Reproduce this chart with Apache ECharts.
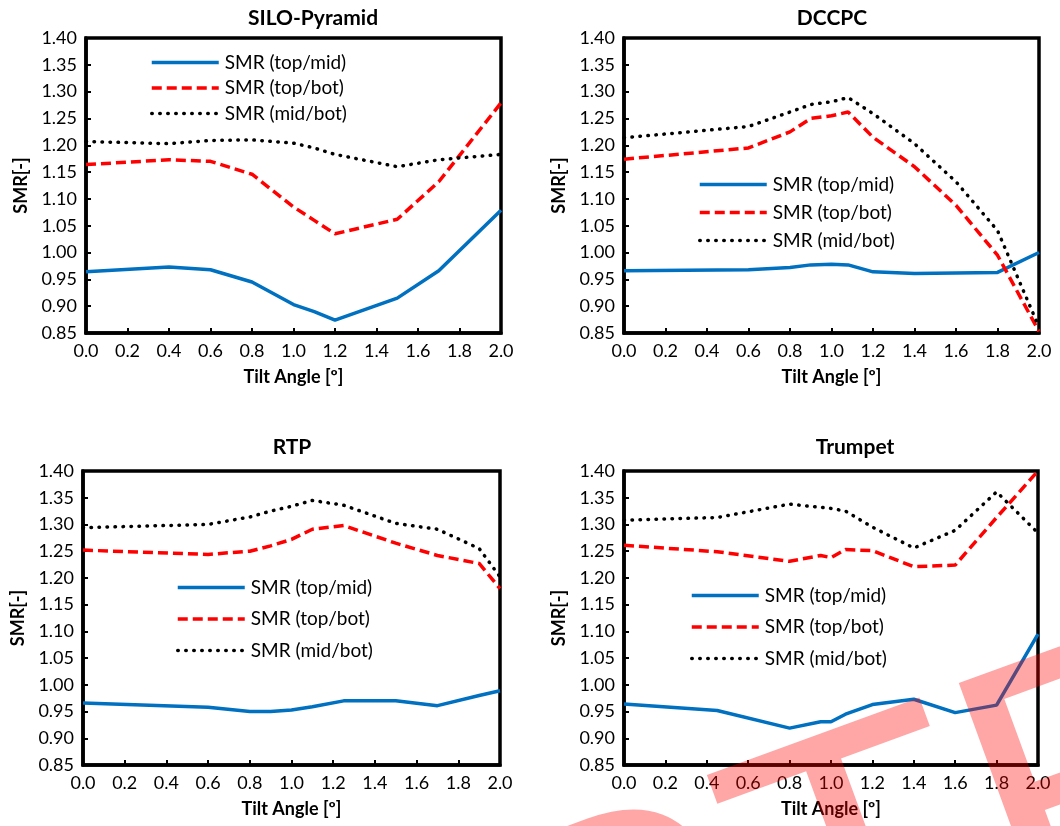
<!DOCTYPE html>
<html>
<head>
<meta charset="utf-8">
<script src="https://cdn.jsdelivr.net/npm/echarts@6/dist/echarts.min.js"></script>
<style>
  html, body { margin: 0; padding: 0; background: #fff; }
  #chart { width: 1060px; height: 826px; }
</style>
</head>
<body>
<div id="chart"></div>
<script>
// SILO-Pyramid
const siloX = [0, 0.4, 0.6, 0.8, 1.0, 1.1, 1.2, 1.5, 1.7, 2.0]
const siloTopMid = [0.964, 0.973, 0.968, 0.945, 0.903, 0.890, 0.874, 0.915, 0.966, 1.079]
const siloTopBot = [1.164, 1.173, 1.170, 1.146, 1.085, 1.060, 1.035, 1.062, 1.132, 1.279]
const siloMidBot = [1.207, 1.203, 1.209, 1.210, 1.204, 1.195, 1.183, 1.160, 1.173, 1.183]

// DCCPC
const dccpcX = [0, 0.6, 0.8, 0.9, 1.0, 1.08, 1.2, 1.4, 1.6, 1.8, 2.0]
const dccpcTopMid = [0.966, 0.968, 0.972, 0.977, 0.978, 0.977, 0.964, 0.961, 0.962, 0.963, 1.000]
const dccpcTopBot = [1.174, 1.195, 1.225, 1.250, 1.255, 1.262, 1.215, 1.160, 1.088, 0.995, 0.853]
const dccpcMidBot = [1.214, 1.235, 1.262, 1.276, 1.281, 1.289, 1.259, 1.203, 1.132, 1.041, 0.861]

// RTP
const rtpX = [0, 0.6, 0.8, 0.9, 1.0, 1.1, 1.25, 1.5, 1.7, 1.9, 2.0]
const rtpTopMid = [0.966, 0.958, 0.950, 0.950, 0.953, 0.959, 0.970, 0.970, 0.961, 0.980, 0.989]
const rtpTopBot = [1.252, 1.244, 1.250, 1.260, 1.272, 1.291, 1.298, 1.265, 1.242, 1.227, 1.180]
const rtpMidBot = [1.294, 1.300, 1.314, 1.325, 1.334, 1.345, 1.336, 1.302, 1.291, 1.255, 1.202]

// Trumpet
const trumpetX = [0, 0.45, 0.8, 0.95, 1.0, 1.07, 1.2, 1.4, 1.6, 1.8, 2.0]
const trumpetTopMid = [0.964, 0.952, 0.919, 0.931, 0.931, 0.945, 0.963, 0.973, 0.948, 0.962, 1.095]
const trumpetTopBot = [1.261, 1.249, 1.231, 1.242, 1.238, 1.253, 1.251, 1.221, 1.224, 1.313, 1.400]
const trumpetMidBot = [1.308, 1.313, 1.338, 1.332, 1.330, 1.325, 1.295, 1.256, 1.289, 1.361, 1.284]

const seriesNames = ['SMR (top/mid)', 'SMR (top/bot)', 'SMR (mid/bot)']
const titles = ['SILO-Pyramid', 'DCCPC', 'RTP', 'Trumpet']

const FONT = 'Lato, "Open Sans", sans-serif'

// one entry per panel: grid box, title spot, legend spot
const panels = [
  { x: siloX, ys: [siloTopMid, siloTopBot, siloMidBot],
    grid: { left: 86, top: 38, width: 415, height: 295 },
    title: [313, 18], legend: { left: 150, top: 53, itemGap: 6.5 } },
  { x: dccpcX, ys: [dccpcTopMid, dccpcTopBot, dccpcMidBot],
    grid: { left: 624, top: 38, width: 415, height: 295 },
    title: [832, 18], legend: { left: 698, top: 175, itemGap: 9 } },
  { x: rtpX, ys: [rtpTopMid, rtpTopBot, rtpMidBot],
    grid: { left: 83, top: 471, width: 417, height: 294 },
    title: [292, 447], legend: { left: 176, top: 578, itemGap: 12.5 } },
  { x: trumpetX, ys: [trumpetTopMid, trumpetTopBot, trumpetMidBot],
    grid: { left: 624, top: 471, width: 414, height: 294 },
    title: [855, 447], legend: { left: 690, top: 586, itemGap: 12.5 } },
]

const lineStyles = [
  { color: '#0070C0', width: 3.5, type: 'solid' },
  { color: '#FF0000', width: 3.5, type: [10, 5] },
  { color: '#000000', width: 3.5, type: [0.5, 7.5], cap: 'round' },
]

const chart = echarts.init(document.getElementById('chart'))

const grid = [], xAxis = [], yAxis = [], series = [], legend = [], graphic = []

panels.forEach((p, i) => {
  grid.push(Object.assign({ show: true, borderColor: '#000', borderWidth: 3.5 }, p.grid))
  xAxis.push({
    type: 'value', gridIndex: i, min: 0, max: 2, interval: 0.2,
    name: 'Tilt Angle [º]', nameLocation: 'middle', nameGap: 35,
    nameTextStyle: { fontFamily: FONT, fontSize: 18, fontWeight: 'bold', color: '#000' },
    axisLine: { show: true, lineStyle: { color: '#000', width: 3.5 } },
    axisTick: { show: true, inside: true, length: 5, lineStyle: { color: '#000', width: 2 } },
    axisLabel: { fontFamily: FONT, fontSize: 18, color: '#000', margin: 9,
      formatter: v => v.toFixed(1) },
    splitLine: { show: false },
  })
  yAxis.push({
    type: 'value', gridIndex: i, min: 0.85, max: 1.40, interval: 0.05,
    name: 'SMR[-]', nameLocation: 'middle', nameGap: 56, nameRotate: 90,
    nameTextStyle: { fontFamily: FONT, fontSize: 18, fontWeight: 'bold', color: '#000' },
    axisLine: { show: true, lineStyle: { color: '#000', width: 3.5 } },
    axisTick: { show: true, inside: true, length: 5, lineStyle: { color: '#000', width: 2 } },
    axisLabel: { fontFamily: FONT, fontSize: 18, color: '#000', margin: 9,
      formatter: v => v.toFixed(2) },
    splitLine: { show: false },
  })
  p.ys.forEach((ys, k) => {
    series.push({
      name: seriesNames[k], type: 'line', xAxisIndex: i, yAxisIndex: i,
      symbol: 'none', smooth: false,
      itemStyle: { color: lineStyles[k].color },
      lineStyle: lineStyles[k],
      data: p.x.map((x, j) => [x, ys[j]]),
    })
  })
  legend.push(Object.assign({
    orient: 'vertical', padding: 0,
    data: seriesNames.map((n, k) => ({ name: n, lineStyle: lineStyles[k] })),
    itemWidth: 67, itemHeight: 14, selectedMode: false,
    itemStyle: { opacity: 0 },
    textStyle: { fontFamily: FONT, fontSize: 19, color: '#000', padding: [0, 0, 0, 1] },
  }, p.legend))
  graphic.push({
    type: 'text', x: p.title[0], y: p.title[1],
    style: { text: titles[i], fontFamily: FONT, fontSize: 21, fontWeight: 'bold',
      fill: '#000', align: 'center', verticalAlign: 'middle' },
  })
})

// watermark across the lower right corner
const wmFont = { fontFamily: '"Liberation Sans", Arial, sans-serif', fontSize: 400,
  fill: 'rgba(255,0,0,0.35)', verticalAlign: 'middle' }
graphic.push({
  type: 'group', x: 755, y: 933, rotation: 0.35, z: 100,
  children: [
    { type: 'text', z: 100, style: Object.assign({ text: 'ACCEP', align: 'right' }, wmFont) },
    { type: 'text', z: 100, style: Object.assign({ text: 'TED', align: 'left' }, wmFont) },
  ],
})

chart.setOption({
  animation: false,
  backgroundColor: '#fff',
  grid, xAxis, yAxis, series, legend, graphic,
})
</script>
</body>
</html>
